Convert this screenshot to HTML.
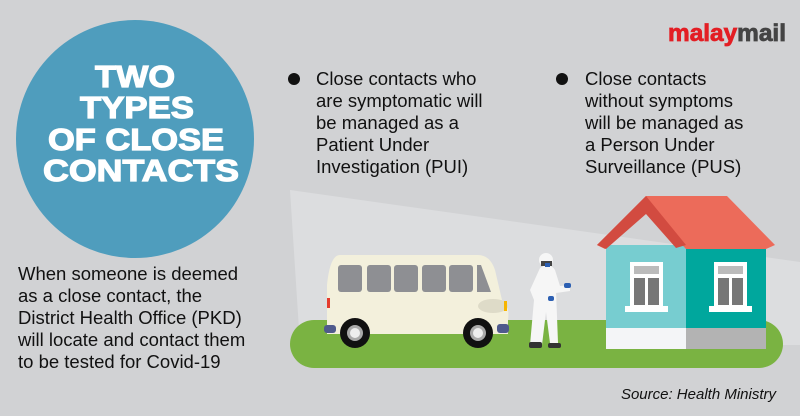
<!DOCTYPE html><html><head><style>body{margin:0}svg{display:block}text{font-family:"Liberation Sans",Arial,sans-serif}</style></head><body>
<svg width="800" height="416" viewBox="0 0 800 416" xmlns="http://www.w3.org/2000/svg">
<rect width="800" height="416" fill="#d1d2d4"/>
<polygon points="290,190 800,262 800,345 300,345" fill="#dcdddf"/>
<rect x="290" y="320" width="493" height="48" rx="24" fill="#7ab342"/>
<circle cx="135" cy="139" r="119" fill="#4f9dbd"/>
<g fill="#fff" font-weight="bold" font-size="31" text-anchor="middle" stroke="#fff" stroke-width="1.2" lengthAdjust="spacingAndGlyphs">
<text x="135" y="87" textLength="80" lengthAdjust="spacingAndGlyphs">TWO</text><text x="137" y="118" textLength="114" lengthAdjust="spacingAndGlyphs">TYPES</text><text x="136" y="150" textLength="176" lengthAdjust="spacingAndGlyphs">OF CLOSE</text><text x="141" y="181" textLength="196" lengthAdjust="spacingAndGlyphs">CONTACTS</text></g>
<g font-size="18.5" fill="#111">
<circle cx="294" cy="79" r="6" fill="#111"/>
<text x="316" y="85">Close contacts who</text><text x="316" y="107">are symptomatic will</text><text x="316" y="129">be managed as a</text><text x="316" y="151">Patient Under</text><text x="316" y="173">Investigation (PUI)</text>
<circle cx="562" cy="79" r="6" fill="#111"/>
<text x="585" y="85">Close contacts</text><text x="585" y="107">without symptoms</text><text x="585" y="129">will be managed as</text><text x="585" y="151">a Person Under</text><text x="585" y="173">Surveillance (PUS)</text>
<text x="18" y="280">When someone is deemed</text><text x="18" y="302">as a close contact, the</text><text x="18" y="324">District Health Office (PKD)</text><text x="18" y="346">will locate and contact them</text><text x="18" y="368">to be tested for Covid-19</text>
</g>
<text x="786" y="41" font-size="24" font-weight="bold" text-anchor="end" stroke-width="0.8" textLength="118" lengthAdjust="spacingAndGlyphs"><tspan fill="#e31e24" stroke="#e31e24">malay</tspan><tspan fill="#444" stroke="#444">mail</tspan></text>
<text x="776" y="399" font-size="15" font-style="italic" text-anchor="end" fill="#111">Source: Health Ministry</text>
<!-- van -->
<path d="M340,255 H478 Q490,255 495,270 L502,300 Q510,306 508,320 V334 H327 V285 Q330,255 340,255 Z" fill="#f3f0dc"/>
<g fill="#8e8f93"><rect x="338" y="265" width="24" height="27" rx="3"/><rect x="367" y="265" width="24" height="27" rx="3"/><rect x="394" y="265" width="24" height="27" rx="3"/><rect x="422" y="265" width="24" height="27" rx="3"/><rect x="449" y="265" width="24" height="27" rx="3"/><path d="M477,265 h4 l10,27 h-14 z"/></g>
<ellipse cx="493" cy="306" rx="15" ry="7" fill="#dedbc8"/>
<rect x="504" y="301" width="3" height="10" fill="#f7b500"/><rect x="327" y="298" width="3" height="10" fill="#e53b2d"/>
<rect x="324" y="325" width="12" height="8" rx="3" fill="#4f5a8c"/><rect x="497" y="324" width="12" height="9" rx="3" fill="#4f5a8c"/>
<circle cx="355" cy="333" r="15" fill="#111"/><circle cx="355" cy="333" r="8" fill="#aaa"/><circle cx="355" cy="333" r="5" fill="#eee"/>
<circle cx="478" cy="333" r="15" fill="#111"/><circle cx="478" cy="333" r="8" fill="#aaa"/><circle cx="478" cy="333" r="5" fill="#eee"/>
<!-- person -->
<path d="M540,268 Q550,262 555,270 L560,286 L570,285 L570,291 L556,293 L556,290 L558,343 L550,343 L546,312 L542,345 L530,345 L534,300 L530,290 Z" fill="#f6f6f6"/>
<circle cx="546" cy="260" r="7" fill="#f6f6f6"/><rect x="541" y="261" width="11" height="5" fill="#444"/><rect x="545" y="263" width="5" height="4" fill="#2c5fb2"/>
<rect x="564" y="283" width="7" height="5" rx="2" fill="#2c5fb2"/><rect x="548" y="296" width="6" height="5" rx="2" fill="#2c5fb2"/>
<rect x="529" y="342" width="13" height="6" rx="2" fill="#333"/><rect x="548" y="343" width="13" height="5" rx="2" fill="#333"/>
<!-- house -->
<rect x="606" y="245" width="81" height="104" fill="#77cdd0"/>
<rect x="686" y="245" width="80" height="104" fill="#00a79d"/>
<rect x="606" y="328" width="81" height="21" fill="#f4f5f7"/><rect x="686" y="328" width="80" height="21" fill="#b3b3b3"/>
<polygon points="597,245 646,196 727,196 775,245 766,249 686,249 646,207 605,249" fill="#ec6b5a"/>
<polygon points="597,245 646,196 686,245 676,248 646,214 606,249" fill="#d24b40"/>
<g><rect x="630" y="262" width="33" height="47" fill="#fff"/><rect x="634" y="266" width="25" height="8" fill="#bbb"/><rect x="634" y="278" width="11" height="27" fill="#777"/><rect x="648" y="278" width="11" height="27" fill="#777"/><rect x="625" y="306" width="43" height="6" fill="#fff"/>
<rect x="714" y="262" width="33" height="47" fill="#fff"/><rect x="718" y="266" width="25" height="8" fill="#bbb"/><rect x="718" y="278" width="11" height="27" fill="#777"/><rect x="732" y="278" width="11" height="27" fill="#777"/><rect x="709" y="306" width="43" height="6" fill="#fff"/></g>
</svg></body></html>
